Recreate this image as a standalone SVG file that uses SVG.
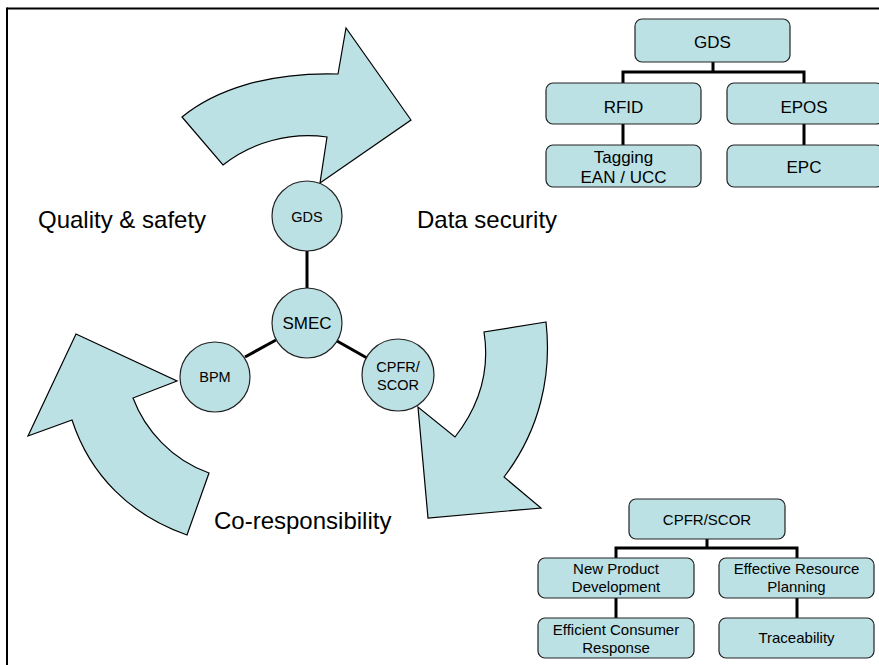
<svg xmlns="http://www.w3.org/2000/svg" width="879" height="665" viewBox="0 0 879 665">
<style>
.sh{fill:#BCE1E4;stroke:#000;stroke-width:1.2;stroke-linejoin:miter}
.bx{fill:#BCE1E4;stroke:#222;stroke-width:1.2}
.cn{fill:none;stroke:#000;stroke-width:3}
.t{font-family:"Liberation Sans",Arial,sans-serif;fill:#000;text-anchor:middle}
.tb{font-size:17px}
.tc{font-size:15px}
.tn{font-size:14.5px}
.lb{font-family:"Liberation Sans",Arial,sans-serif;font-size:24px;fill:#000}
</style>
<rect width="879" height="665" fill="#fff"/>
<g id="frame">
<line x1="7" y1="8.5" x2="879" y2="8.5" stroke="#000" stroke-width="2"/>
<line x1="7" y1="7.5" x2="7" y2="665" stroke="#000" stroke-width="2"/>
</g>
<g id="arrows">
<path id="arrow-top" class="sh" d="M182,117 C215,90 268,72 338,74 L346,28 L411,120 L320,183 L327,137 C290,132 252,142 223,165 Z"/>
<path id="arrow-right" class="sh" d="M546,322 L484,332 C490,370 480,405 455,437 L418,407 L428,518 L541,508 L504,477 C540,430 552,375 546,322 Z"/>
<path id="arrow-left" class="sh" d="M76,334 L177,381 L133,398 C145,430 172,460 209,473 L187,535 C130,515 90,475 72,420 L28,436 Z"/>
</g>
<g id="connectors">
<line class="cn" x1="307" y1="251" x2="307" y2="288"/>
<line class="cn" x1="337" y1="341" x2="367" y2="358"/>
<line class="cn" x1="245" y1="357" x2="276" y2="340"/>
<path class="cn" d="M713,62 V72 M623,83 V72 H804 V83 M623,124 V145 M804,124 V145"/>
<path class="cn" d="M707,539 V548 M616,558 V548 H797 V558 M616,598 V618 M797,598 V618"/>
</g>
<g id="n-gds-circle"><circle class="bx" cx="307" cy="216" r="35"/><text class="t tn" x="307" y="222">GDS</text></g>
<g id="n-smec"><circle class="bx" cx="307" cy="323" r="35"/><text class="t" style="font-size:17px" x="307" y="329">SMEC</text></g>
<g id="n-cpfr-circle"><circle class="bx" cx="398" cy="375" r="36"/><text class="t tn" x="398" y="372">CPFR/</text><text class="t tn" x="398" y="390">SCOR</text></g>
<g id="n-bpm"><circle class="bx" cx="215" cy="377" r="35"/><text class="t tn" x="215" y="382">BPM</text></g>
<g id="labels">
<text class="lb" x="38" y="228">Quality &amp; safety</text>
<text class="lb" x="417" y="228">Data security</text>
<text class="lb" x="214" y="529">Co-responsibility</text>
</g>
<g id="n-gds"><rect class="bx" x="635" y="19" width="155" height="43" rx="7"/><text class="t tb" x="712.5" y="48">GDS</text></g>
<g id="n-rfid"><rect class="bx" x="546" y="83" width="155" height="41" rx="7"/><text class="t tb" x="623.5" y="113">RFID</text></g>
<g id="n-epos"><rect class="bx" x="727" y="83" width="156" height="41" rx="7"/><text class="t tb" x="804" y="113">EPOS</text></g>
<g id="n-tagging"><rect class="bx" x="546" y="145" width="155" height="42" rx="7"/><text class="t tb" x="623.5" y="163">Tagging</text><text class="t tb" x="623.5" y="183">EAN / UCC</text></g>
<g id="n-epc"><rect class="bx" x="727" y="145" width="156" height="42" rx="7"/><text class="t tb" x="804" y="173">EPC</text></g>
<g id="n-cpfr"><rect class="bx" x="629" y="499" width="156" height="40" rx="7"/><text class="t tc" x="707" y="525">CPFR/SCOR</text></g>
<g id="n-npd"><rect class="bx" x="538" y="558" width="156" height="40" rx="7"/><text class="t tc" x="616" y="574">New Product</text><text class="t tc" x="616" y="592">Development</text></g>
<g id="n-erp"><rect class="bx" x="719" y="558" width="155" height="40" rx="7"/><text class="t tc" x="796.5" y="574">Effective Resource</text><text class="t tc" x="796.5" y="592">Planning</text></g>
<g id="n-ecr"><rect class="bx" x="538" y="618" width="156" height="40" rx="7"/><text class="t tc" x="616" y="635">Efficient Consumer</text><text class="t tc" x="616" y="653">Response</text></g>
<g id="n-trace"><rect class="bx" x="719" y="618" width="155" height="40" rx="7"/><text class="t tc" x="796.5" y="643">Traceability</text></g>
</svg>
